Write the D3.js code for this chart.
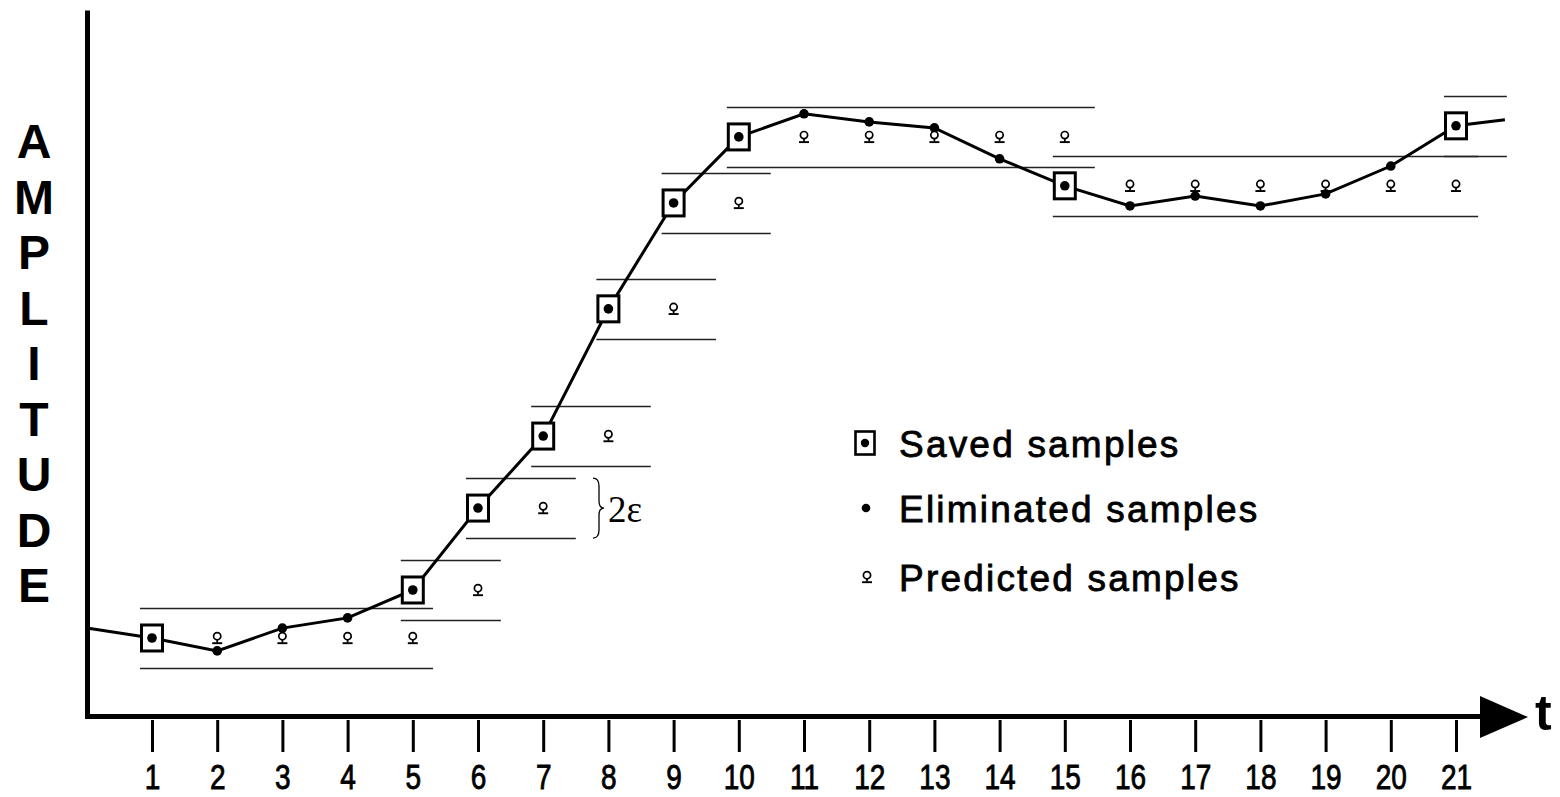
<!DOCTYPE html>
<html><head><meta charset="utf-8">
<script src="https://cdn.jsdelivr.net/npm/d3@7/dist/d3.min.js"></script>
<style>body{margin:0;background:#fff}svg{display:block;background:#fff}</style>
</head><body><svg id="c" width="1560" height="797"></svg>
<script>
// ---- data ----
const tValues = [1,2,3,4,5,6,7,8,9,10,11,12,13,14,15,16,17,18,19,20,21];
const tickLabels = ["1","2","3","4","5","6","7","8","9","10","11","12","13","14","15","16","17","18","19","20","21"];
const amplitude = [2.6,2.17,2.93,3.27,4.2,6.93,9.33,13.57,17.1,19.3,20.07,19.8,19.6,18.57,17.67,17.0,17.33,17.0,17.4,18.33,19.67];
const leadInT = [0], leadInV = [2.93];
const leadOutT = [21.75], leadOutV = [19.87];
const savedT = [1,5,6,7,8,9,10,15,21];
const savedV = [2.6,4.2,6.93,9.33,13.57,17.1,19.3,17.67,19.67];
const bandEndT = [5.31,6.35,7.5,8.65,9.65,10.49,15.46,21.34,21.78];
const epsilon = 1;
const eliminatedT = [2,3,4,11,12,13,14,16,17,18,19,20];
const eliminatedV = [2.17,2.93,3.27,20.07,19.8,19.6,18.57,17.0,17.33,17.0,17.4,18.33];
const predT = [2,3,4,5,6,7,8,9,10,11,12,13,14,15,16,17,18,19,20,21];
const predV = [2.6,2.6,2.6,2.6,4.2,6.93,9.33,13.57,17.1,19.3,19.3,19.3,19.3,19.3,17.67,17.67,17.67,17.67,17.67,17.67];
const legendLabels = ["Saved samples","Eliminated samples","Predicted samples"];
const yLabel = "AMPLITUDE";
const xLabel = "t";
const epsLabel = "2\u03B5";

// ---- scales ----
const svg = d3.select("#c");
const x = d3.scaleLinear().domain([1,21]).range([152,1456]);
const y = d3.scaleLinear().domain([0,23.53]).range([716,10]);
const SANS = "'Liberation Sans', Arial, Helvetica, sans-serif";

// ---- axes ----
const yAxis = svg.append("g").attr("transform","translate(87,0)")
  .call(d3.axisLeft(y).tickValues([]).tickSizeOuter(0));
yAxis.select(".domain").attr("stroke","#000").attr("stroke-width",5);

svg.append("line").attr("x1",85).attr("x2",1484).attr("y1",716.5).attr("y2",716.5)
  .attr("stroke","#000").attr("stroke-width",5);
svg.append("path").attr("d","M1480,696 L1528,717 L1480,738 Z").attr("fill","#000");

const SY = 1.22;
const xAxis = svg.append("g").attr("transform","translate(0,716)")
  .call(d3.axisBottom(x).tickValues(tValues).tickFormat((d,i)=>tickLabels[i]).tickSizeOuter(0));
xAxis.select(".domain").remove();
xAxis.selectAll(".tick line").attr("y1",4).attr("y2",36).attr("stroke","#000").attr("stroke-width",3);
xAxis.selectAll(".tick text").attr("fill","#000").attr("font-family",SANS).attr("font-size",28)
  .attr("stroke","#000").attr("stroke-width",0.7)
  .attr("dy",0).attr("y",73.5/SY).attr("transform",`scale(1,${SY})`);

// axis labels
svg.append("g").selectAll("text").data(yLabel.split("")).join("text")
  .attr("x",34).attr("y",(d,i)=>158+i*55.5).attr("text-anchor","middle")
  .attr("font-family",SANS).attr("font-weight","bold").attr("font-size",48).text(d=>d);
svg.append("text").attr("x",1535).attr("y",730).attr("font-family",SANS)
  .attr("font-weight","bold").attr("font-size",50).text(xLabel);

// ---- bands ----
const bands = svg.append("g").attr("stroke","#222").attr("stroke-width",1.6);
savedT.forEach((t,i)=>{
  [savedV[i]+epsilon, savedV[i]-epsilon].forEach(v=>{
    bands.append("line").attr("x1",x(t)-12).attr("x2",x(bandEndT[i]))
      .attr("y1",Math.round(y(v))+0.5).attr("y2",Math.round(y(v))+0.5);
  });
});

// ---- signal line ----
const pts = leadInT.map((t,i)=>[t,leadInV[i]])
  .concat(tValues.map((t,i)=>[t,amplitude[i]]))
  .concat(leadOutT.map((t,i)=>[t,leadOutV[i]]));
svg.append("path").datum(pts)
  .attr("d",d3.line().x(d=>x(d[0])).y(d=>y(d[1])))
  .attr("fill","none").attr("stroke","#000").attr("stroke-width",3);

// eliminated dots
svg.append("g").selectAll("circle").data(eliminatedT).join("circle")
  .attr("cx",d=>x(d)).attr("cy",(d,i)=>y(eliminatedV[i])).attr("r",4.8).attr("fill","#000");

// predicted glyphs
function predGlyph(g){
  g.append("circle").attr("cx",0).attr("cy",-1.8).attr("r",3.6)
    .attr("fill","#fff").attr("stroke","#000").attr("stroke-width",1.7);
  g.append("line").attr("x1",0).attr("x2",0).attr("y1",1.8).attr("y2",4.8).attr("stroke","#000").attr("stroke-width",1.7);
  g.append("line").attr("x1",-5).attr("x2",5).attr("y1",5.2).attr("y2",5.2).attr("stroke","#000").attr("stroke-width",1.9);
}
svg.append("g").selectAll("g").data(predT).join("g")
  .attr("transform",(d,i)=>`translate(${x(d)},${y(predV[i])})`)
  .each(function(){ predGlyph(d3.select(this)); });

// saved boxes
const sv = svg.append("g").selectAll("g").data(savedT).join("g")
  .attr("transform",(d,i)=>`translate(${x(d)},${y(savedV[i])})`);
sv.append("rect").attr("x",-10.5).attr("y",-13).attr("width",21).attr("height",26)
  .attr("fill","#fff").attr("stroke","#000").attr("stroke-width",3);
sv.append("circle").attr("r",4.8).attr("fill","#000");

// ---- 2 epsilon brace ----
const bTop = y(savedV[2]+epsilon), bBot = y(savedV[2]-epsilon), bMid = (bTop+bBot)/2, bx = 593;
svg.append("path")
  .attr("d",`M${bx},${bTop} Q${bx+6},${bTop} ${bx+6},${bTop+8} L${bx+6},${bMid-7} Q${bx+6},${bMid} ${bx+11},${bMid} Q${bx+6},${bMid} ${bx+6},${bMid+7} L${bx+6},${bBot-8} Q${bx+6},${bBot} ${bx},${bBot}`)
  .attr("fill","none").attr("stroke","#000").attr("stroke-width",1.3);
svg.append("text").attr("x",608).attr("y",522).attr("font-family","'Liberation Serif', 'Times New Roman', serif")
  .attr("font-size",37).text(epsLabel);

// ---- legend ----
const lg = svg.append("g");
const lgY = [443,508,577];
const lb = lg.append("g").attr("transform",`translate(865,${lgY[0]})`);
lb.append("rect").attr("x",-9.5).attr("y",-11.5).attr("width",19).attr("height",23)
  .attr("fill","#fff").attr("stroke","#000").attr("stroke-width",2.6);
lb.append("circle").attr("r",4.2).attr("fill","#000");
lg.append("circle").attr("cx",866).attr("cy",lgY[1]).attr("r",4.3).attr("fill","#000");
predGlyph(lg.append("g").attr("transform",`translate(867,${lgY[2]})`));
lg.selectAll("text").data(legendLabels).join("text")
  .attr("x",899).attr("y",(d,i)=>lgY[i]+14).attr("font-family",SANS).attr("font-size",37)
  .attr("letter-spacing",2.2).attr("stroke","#000").attr("stroke-width",0.8).text(d=>d);
</script></body></html>
